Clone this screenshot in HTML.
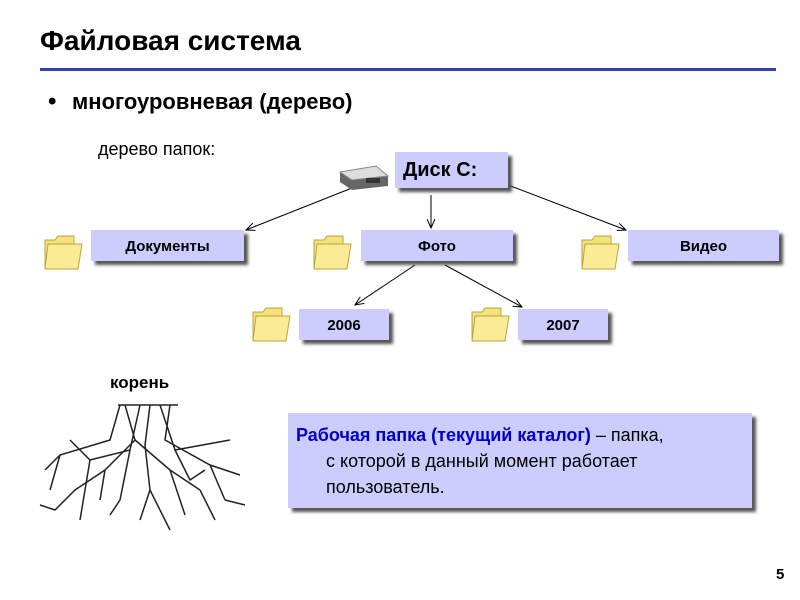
<!DOCTYPE html>
<html><head><meta charset="utf-8"><style>
body{margin:0;width:800px;height:600px;background:#fff;position:relative;overflow:hidden;font-family:"Liberation Sans",sans-serif}
.a{position:absolute}
.box{position:absolute;background:#ccccff;box-shadow:4px 4px 3px #555;font-weight:bold;text-align:center;color:#000}
.s{font-size:15px;height:31px;line-height:33px}
</style></head><body>
<div class="a" style="left:40px;top:25px;font-size:28px;font-weight:bold">Файловая система</div>
<div class="a" style="left:40px;top:68px;width:736px;height:3px;background:#3344aa"></div>
<div class="a" style="left:48px;top:88px;font-size:24px;font-weight:bold">•</div>
<div class="a" style="left:72px;top:89px;font-size:22px;font-weight:bold">многоуровневая (дерево)</div>
<div class="a" style="left:98px;top:139px;font-size:18px">дерево папок:</div>
<svg class="a" style="left:0;top:0" width="800" height="600">
<defs><marker id="m" markerWidth="10" markerHeight="8" refX="9" refY="4" orient="auto"><path d="M0,0 L9,4 L0,8" fill="none" stroke="#000"/></marker></defs>
<g stroke="#000" stroke-width="1" fill="none">
<line x1="357" y1="186" x2="246" y2="230" marker-end="url(#m)"/>
<line x1="431" y1="195" x2="431" y2="228" marker-end="url(#m)"/>
<line x1="508" y1="185" x2="626" y2="230" marker-end="url(#m)"/>
<line x1="415" y1="265" x2="355" y2="305" marker-end="url(#m)"/>
<line x1="445" y1="265" x2="522" y2="307" marker-end="url(#m)"/>
</g>
<g>
<path d="M340 172 L376 166 L388 176 L388 186 L352 190 L340 182z" fill="#666"/>
<path d="M340 172 L376 166 L388 176 L352 180z" fill="#ddd" stroke="#888"/>
<rect x="366" y="178" width="14" height="5" fill="#333"/>
</g>
<g fill="#f5e27a" stroke="#b9a440">
<path d="M45 240 h10 l3 -4 h16 v30 h-29z"/><path d="M48 244 h34 l-4 25 h-33z" fill="#fbeb95"/>
<path d="M314 240 h10 l3 -4 h16 v30 h-29z"/><path d="M317 244 h34 l-4 25 h-33z" fill="#fbeb95"/>
<path d="M582 240 h10 l3 -4 h16 v30 h-29z"/><path d="M585 244 h34 l-4 25 h-33z" fill="#fbeb95"/>
<path d="M253 312 h10 l3 -4 h16 v30 h-29z"/><path d="M256 316 h34 l-4 25 h-33z" fill="#fbeb95"/>
<path d="M472 312 h10 l3 -4 h16 v30 h-29z"/><path d="M475 316 h34 l-4 25 h-33z" fill="#fbeb95"/>
</g>
<g stroke="#222" fill="none" stroke-width="1.5">
<path d="M118 405 h60 M125 405 L135 440 L105 470 L75 490 M135 440 L170 470 L200 490 M150 405 L145 445 L150 490 L140 520 M170 405 L165 440 L210 465 L240 475 M120 405 L110 440 L60 455 L45 470 M105 470 L100 500 M170 470 L185 515 M60 455 L50 490 M210 465 L225 500 M75 490 L55 510 M150 490 L170 530 M140 405 L130 450 L90 460 L70 440 M160 405 L175 450 L230 440 M90 460 L80 520 M200 490 L215 520 M55 510 L40 505 M225 500 L245 505 M130 450 L120 500 L110 515 M175 450 L190 480 L205 470"/>
</g>
</svg>
<div class="box" style="left:395px;top:152px;width:113px;height:36px;line-height:36px;font-size:20px;text-align:left;padding-left:8px;box-sizing:border-box">Диск С:</div>
<div class="box s" style="left:91px;top:230px;width:153px">Документы</div>
<div class="box s" style="left:361px;top:230px;width:152px">Фото</div>
<div class="box s" style="left:628px;top:230px;width:151px">Видео</div>
<div class="box s" style="left:299px;top:309px;width:90px">2006</div>
<div class="box s" style="left:518px;top:309px;width:90px">2007</div>
<div class="a" style="left:110px;top:373px;font-size:17px;font-weight:bold">корень</div>
<div class="box" style="left:288px;top:413px;width:464px;height:95px;text-align:left;font-weight:normal;font-size:18px;line-height:26px;padding:9px 0 0 8px;box-sizing:border-box"><b style="color:#0000cc">Рабочая папка (текущий каталог)</b> – папка,<br><span style="padding-left:30px">с которой в данный момент работает</span><br><span style="padding-left:30px">пользователь.</span></div>
<div class="a" style="left:776px;top:566px;font-size:15px;font-weight:bold">5</div>
</body></html>
